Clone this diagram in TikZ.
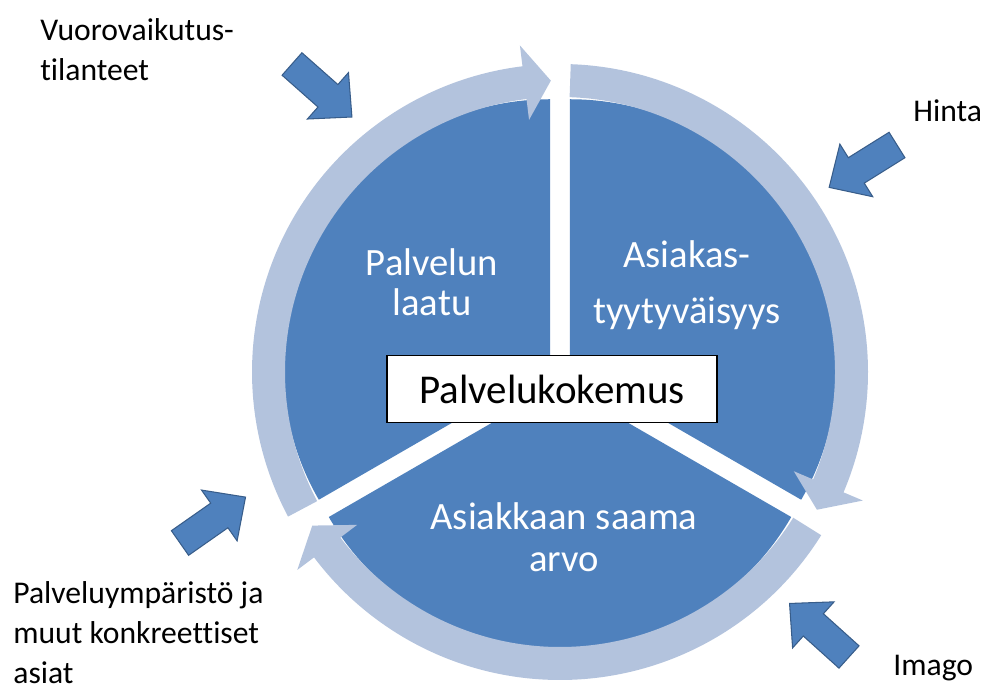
\documentclass[tikz,border=0pt]{standalone}
\usepackage{fontspec}
\setmainfont{Carlito}[Ligatures=NoCommon]
\definecolor{segblue}{RGB}{79,129,189}
\definecolor{ringblue}{RGB}{179,195,221}
\definecolor{edgeblue}{RGB}{56,93,138}
\begin{document}
\begin{tikzpicture}[x=0.02cm,y=0.02cm,
  sector/.style={fill=segblue},
  ringarrow/.style={fill=ringblue},
  inarrow/.style={fill=segblue,draw=edgeblue,line width=0.6pt},
  inner/.style={text=white,align=center,inner sep=0pt,font=\fontsize{22}{22.8}\selectfont},
  outer/.style={align=left,inner sep=0pt,font=\fontsize{18}{22.8}\selectfont}]
\useasboundingbox (0,0) rectangle (983,689);
% three pie pieces, each pushed out a little along its middle
\foreach \a in {90,-30,210}{\fill[sector,shift={(560,317)},shift={(\a+60:11.5)}] (0,0) -- (\a:267) arc[start angle=\a,end angle=\a+120,radius=267] -- cycle;}
% ring of curved arrows, clockwise
\foreach \s/\e in {210/90,90/-30,-30/-150}{\fill[ringarrow,shift={(560,317)}] (\s-2:308) arc[start angle=\s-2,end angle=\e+7,radius=308] -- (\e+7:329) -- (\e+1.8:291.5) -- (\e+7:254) -- (\e+7:275) arc[start angle=\e+7,end angle=\s-2,radius=275] -- cycle;}
\node[inner] (laatu) at (432,407) {Palvelun\\laatu};
\node[inner] (tyytyv) at (687,404) {Asiakas-\\[9pt]tyytyväisyys};
\node[inner] (arvo) at (564,152) {Asiakkaan saama\\[1pt]arvo};
\node[draw=black,line width=0.8pt,fill=white,minimum width=6.6cm,minimum height=1.34cm,font=\fontsize{23.3}{24}\selectfont] (kokemus) at (552,300) {Palvelukokemus};
% outside factors
\foreach \tx/\ty/\r in {292/625/-41.5,897/544/212,849/32/138,180/146/35}{\draw[inarrow,shift={(\tx,\ty)},rotate=\r] (0,-15) -- (48,-15) -- (48,-31) -- (80,0) -- (48,31) -- (48,15) -- (0,15) -- cycle;}
\node[outer,anchor=north west] (vuoro) at (40,671) {Vuorovaikutus-\\tilanteet};
\node[outer,anchor=base west] (hinta) at (913,567) {Hinta};
\node[outer,anchor=base west] (imago) at (893,13) {Imago};
\node[outer,anchor=north west] (ymparisto) at (13,108) {Palveluympäristö ja\\muut konkreettiset\\asiat};
\end{tikzpicture}
\end{document}
